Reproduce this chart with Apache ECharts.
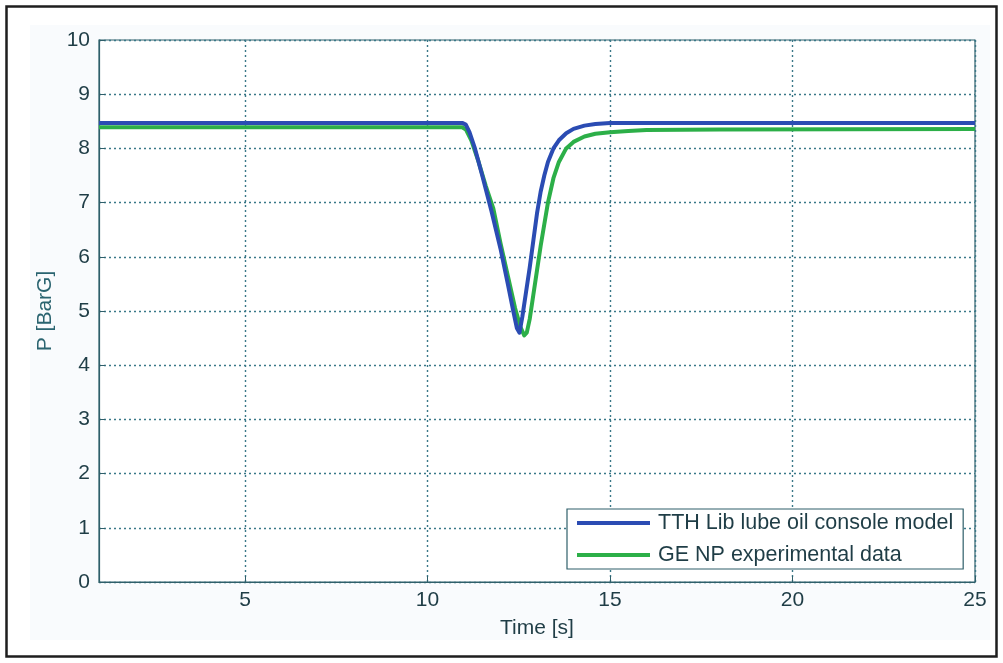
<!DOCTYPE html>
<html>
<head>
<meta charset="utf-8">
<script src="https://cdn.jsdelivr.net/npm/echarts@6/dist/echarts.min.js"></script>
<style>
html,body{margin:0;padding:0;background:#ffffff;}
#chart{width:1003px;height:663px;}
</style>
</head>
<body>
<div id="chart"></div>
<script>
// ---- data ----
const xTicks = [5, 10, 15, 20, 25];
const yTicks = [0, 1, 2, 3, 4, 5, 6, 7, 8, 9, 10];

const modelName = 'TTH Lib lube oil console model';
const modelTime = [1, 10.95, 11.05, 11.15, 11.3, 11.5, 11.75, 12.0, 12.2, 12.35, 12.45, 12.52, 12.6, 12.7, 12.8, 12.9, 13.0, 13.1, 13.2, 13.3, 13.45, 13.6, 13.8, 14.0, 14.3, 14.6, 15.0, 25];
const modelP    = [8.47, 8.47, 8.44, 8.3, 8.0, 7.5, 6.85, 6.15, 5.5, 5.0, 4.68, 4.6, 4.9, 5.35, 5.8, 6.3, 6.8, 7.2, 7.5, 7.75, 8.0, 8.15, 8.28, 8.36, 8.42, 8.45, 8.47, 8.47];

const expName = 'GE NP experimental data';
const expTime = [1, 10.95, 11.05, 11.2, 11.4, 11.6, 11.8, 12.0, 12.2, 12.4, 12.55, 12.65, 12.72, 12.8, 12.9, 13.0, 13.1, 13.2, 13.3, 13.45, 13.6, 13.8, 14.0, 14.3, 14.6, 15.0, 15.5, 16, 18, 25];
const expP    = [8.39, 8.39, 8.35, 8.15, 7.75, 7.3, 6.9, 6.25, 5.65, 5.05, 4.7, 4.55, 4.6, 4.85, 5.3, 5.75, 6.2, 6.6, 7.0, 7.45, 7.75, 8.0, 8.12, 8.22, 8.27, 8.3, 8.32, 8.34, 8.35, 8.36];

const zip = (a, b) => a.map((v, i) => [v, b[i]]);

const axisColor = '#2f5f6a';
const gridColor = '#3a7888';
const textColor = '#1f3d46';
const font = '"Liberation Sans", Arial, sans-serif';

const chart = echarts.init(document.getElementById('chart'), null, {renderer: 'canvas'});
chart.setOption({
  backgroundColor: '#ffffff',
  animation: false,
  graphic: [
    {type: 'rect', shape: {x: 30, y: 25, width: 960, height: 615}, style: {fill: '#f9fbfd'}, z: -10, silent: true},
    {type: 'rect', shape: {x: 6.5, y: 6.5, width: 990, height: 650}, style: {fill: 'none', stroke: '#1e1e1e', lineWidth: 2.5}, z: 10, silent: true}
  ],
  grid: {left: 99, right: 28, top: 40, bottom: 81, show: true, backgroundColor: '#ffffff', borderColor: axisColor, borderWidth: 1.2},
  legend: {
    orient: 'vertical', left: 567, top: 509,
    backgroundColor: '#ffffff', borderColor: axisColor, borderWidth: 1.2,
    padding: [3, 10, 3, 10], itemGap: 10,
    itemWidth: 73, itemHeight: 4, icon: 'rect',
    textStyle: {fontFamily: font, fontSize: 21.5, color: textColor, padding: [0, 0, 0, 3]},
    data: [modelName, expName]
  },
  xAxis: {
    type: 'value', min: 1, max: 25,
    name: 'Time [s]', nameLocation: 'middle', nameGap: 36,
    nameTextStyle: {fontFamily: font, fontSize: 21, color: textColor},
    axisLine: {lineStyle: {color: axisColor, width: 1.2}},
    axisTick: {inside: true, length: 6, customValues: xTicks, lineStyle: {color: axisColor}},
    axisLabel: {customValues: xTicks, margin: 8, fontFamily: font, fontSize: 21, color: textColor},
    splitLine: {show: true, lineStyle: {color: gridColor, type: [2, 3], width: 1.4}}
  },
  yAxis: {
    type: 'value', min: 0, max: 10, interval: 1,
    name: 'P [BarG]', nameLocation: 'middle', nameGap: 43, nameRotate: 90,
    nameTextStyle: {fontFamily: font, fontSize: 21, color: '#2a6470'},
    axisLine: {show: true, lineStyle: {color: axisColor, width: 1.2}},
    axisTick: {show: true, inside: true, length: 6, lineStyle: {color: axisColor}},
    axisLabel: {margin: 9, fontFamily: font, fontSize: 21, color: textColor, formatter: v => yTicks.includes(v) ? String(v) : ''},
    splitLine: {show: true, lineStyle: {color: gridColor, type: [2, 3], width: 1.4}}
  },
  series: [
    {
      name: modelName, type: 'line', data: zip(modelTime, modelP),
      showSymbol: false, smooth: false,
      lineStyle: {color: '#2b4cb3', width: 4, join: 'round'}, itemStyle: {color: '#2b4cb3'}, z: 3
    },
    {
      name: expName, type: 'line', data: zip(expTime, expP),
      showSymbol: false, smooth: false,
      lineStyle: {color: '#2caf48', width: 4, join: 'round'}, itemStyle: {color: '#2caf48'}, z: 2
    }
  ]
});
</script>
</body>
</html>
